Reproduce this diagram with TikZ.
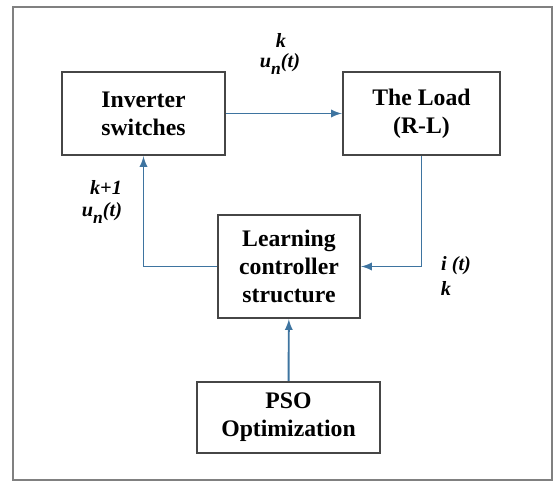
\documentclass[tikz,border=0pt]{standalone}
\usepackage{fontspec}
\setmainfont{Liberation Serif}
\definecolor{arrowblue}{RGB}{62,116,160}
\definecolor{boxgray}{RGB}{70,70,70}
\newcommand{\sig}[1]{\textbf{\textit{#1}}}
\newcommand{\sub}[1]{\raisebox{-0.8ex}{\fontsize{10}{12}\selectfont\sig{#1}}}
\tikzset{
  block/.style={draw=boxgray,line width=1.4pt,align=center,font=\fontsize{13.5}{16}\selectfont\bfseries,inner sep=2pt},
  arr/.style={draw=arrowblue,line width=1.1pt,-latex},
  lbl/.style={font=\fontsize{11.5}{13}\selectfont,inner sep=0pt}
}
\begin{document}
\begin{tikzpicture}[x=0.02cm,y=-0.02cm]
  \useasboundingbox (0,0) rectangle (556,483);
  \draw[gray,line width=1pt] (13,7) rectangle (552,480);
  % blocks
  \node[block,minimum width=163*0.02cm,minimum height=83*0.02cm] (inv) at (143.5,113.5) {Inverter\\switches};
  \node[block,minimum width=157*0.02cm,minimum height=83*0.02cm] (load) at (421.5,113.5) {The Load\\(R-L)};
  \node[block,minimum width=142*0.02cm,minimum height=103*0.02cm] (learn) at (289,266.5) {Learning\\controller\\structure};
  \node[block,minimum width=183*0.02cm,minimum height=71*0.02cm] (pso) at (288.5,417.5) {PSO\\Optimization};
  % connections
  \draw[arr] (inv) -- (load);
  \draw[arr] (load.south) |- (learn.east);
  \draw[arr] (learn.west) -| (inv.south);
  \draw[arr] (pso) -- (learn);
  % labels
  \node[lbl] (ktop) at (281,40) {\sig{k}};
  \node[lbl] (utop) at (280,64) {\sig{u}\sub{n}\sig{(t)}};
  \node[lbl] (kleft) at (106,187) {\sig{k+1}};
  \node[lbl] (uleft) at (102,213) {\sig{u}\sub{n}\sig{(t)}};
  \node[lbl] (iright) at (456,266) {\sig{i (t)}};
  \node[lbl] (kright) at (446,288) {\sig{k}};
\end{tikzpicture}
\end{document}
